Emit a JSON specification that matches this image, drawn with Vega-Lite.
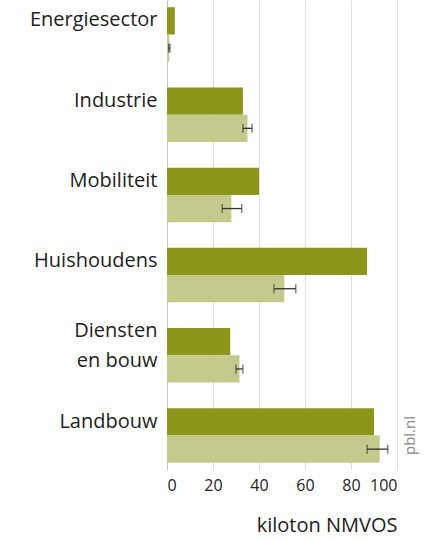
{
  "$schema": "https://vega.github.io/schema/vega-lite/v6.json",
  "width": 230,
  "height": 470,
  "autosize": {"type": "none"},
  "padding": {"left": 167, "top": 0, "right": 41, "bottom": 71},
  "background": "white",
  "config": {"view": {"stroke": null}, "font": "Open Sans"},
  "data": {"values": [
    {"sector": "Energiesector", "reeks": "Realisatie", "waarde": 3.4},
    {"sector": "Energiesector", "reeks": "Raming", "waarde": 1, "laag": 0.7, "hoog": 1.3},
    {"sector": "Industrie", "reeks": "Realisatie", "waarde": 33},
    {"sector": "Industrie", "reeks": "Raming", "waarde": 35, "laag": 33, "hoog": 37},
    {"sector": "Mobiliteit", "reeks": "Realisatie", "waarde": 40},
    {"sector": "Mobiliteit", "reeks": "Raming", "waarde": 28, "laag": 24, "hoog": 32.5},
    {"sector": "Huishoudens", "reeks": "Realisatie", "waarde": 87},
    {"sector": "Huishoudens", "reeks": "Raming", "waarde": 51, "laag": 46.5, "hoog": 56},
    {"sector": "Diensten en bouw", "reeks": "Realisatie", "waarde": 27.5},
    {"sector": "Diensten en bouw", "reeks": "Raming", "waarde": 31.5, "laag": 30, "hoog": 33},
    {"sector": "Landbouw", "reeks": "Realisatie", "waarde": 90},
    {"sector": "Landbouw", "reeks": "Raming", "waarde": 92.5, "laag": 87, "hoog": 96}
  ]},
  "encoding": {
    "y": {
      "field": "sector",
      "type": "nominal",
      "sort": ["Energiesector", "Industrie", "Mobiliteit", "Huishoudens", "Diensten en bouw", "Landbouw"],
      "scale": {"paddingInner": 0.32, "paddingOuter": 0.09},
      "axis": {
        "title": null,
        "domain": true,
        "domainColor": "#c8c8c8",
        "ticks": false,
        "grid": false,
        "labelPadding": 10,
        "labelFontSize": 20,
        "labelColor": "#222222",
        "labelOffset": {"condition": {"test": "datum.value == 'Diensten en bouw'", "value": -24}, "value": -14},
        "labelLineHeight": 30,
        "labelExpr": "datum.value == 'Diensten en bouw' ? ['Diensten', 'en bouw'] : datum.value"
      }
    }
  },
  "layer": [
    {
      "mark": {"type": "bar"},
      "encoding": {
        "yOffset": {"field": "reeks", "sort": ["Realisatie", "Raming"]},
        "x": {
          "field": "waarde",
          "type": "quantitative",
          "title": "kiloton NMVOS",
          "scale": {"domain": [0, 100], "nice": false},
          "axis": {
            "values": [0, 20, 40, 60, 80, 100],
            "grid": true,
            "gridColor": "#dedede",
            "domain": false,
            "ticks": false,
            "labelFontSize": 16,
            "labelColor": "#222222",
            "labelPadding": 7,
            "titleFontSize": 20,
            "titleFontWeight": "normal",
            "titleColor": "#222222",
            "titleAnchor": "end",
            "titlePadding": 22
          }
        },
        "color": {
          "field": "reeks",
          "scale": {"domain": ["Realisatie", "Raming"], "range": ["#8b961a", "#c6c98c"]},
          "legend": null
        }
      }
    },
    {
      "transform": [{"filter": "datum.reeks == 'Raming'"}],
      "mark": {"type": "rule", "color": "#333333", "strokeWidth": 1.3},
      "encoding": {
        "yOffset": {"field": "reeks", "sort": ["Realisatie", "Raming"]},
        "x": {"field": "laag", "type": "quantitative", "title": "kiloton NMVOS"},
        "x2": {"field": "hoog"}
      }
    },
    {
      "transform": [{"filter": "datum.reeks == 'Raming'"}],
      "mark": {"type": "tick", "color": "#333333", "size": 9, "thickness": 1.3},
      "encoding": {
        "yOffset": {"field": "reeks", "sort": ["Realisatie", "Raming"]},
        "x": {"field": "laag", "type": "quantitative", "title": "kiloton NMVOS"}
      }
    },
    {
      "transform": [{"filter": "datum.reeks == 'Raming'"}],
      "mark": {"type": "tick", "color": "#333333", "size": 9, "thickness": 1.3},
      "encoding": {
        "yOffset": {"field": "reeks", "sort": ["Realisatie", "Raming"]},
        "x": {"field": "hoog", "type": "quantitative", "title": "kiloton NMVOS"}
      }
    },
    {
      "data": {"values": [{"bron": "pbl.nl"}]},
      "mark": {"type": "text", "angle": 270, "fontSize": 15, "color": "#8a8a8a", "align": "center", "baseline": "middle"},
      "encoding": {
        "x": {"datum": 105.5},
        "y": {"datum": "Landbouw"},
        "text": {"field": "bron"}
      }
    }
  ]
}
